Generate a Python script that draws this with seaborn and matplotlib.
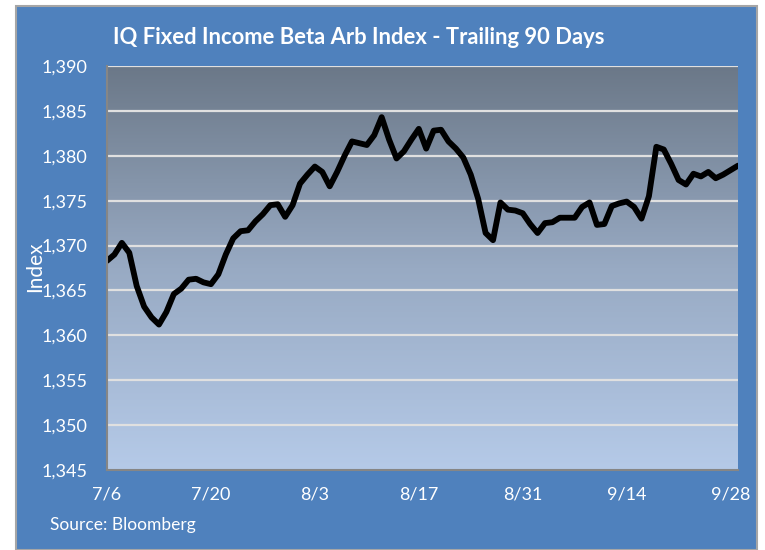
import numpy as np
import pandas as pd
import matplotlib
matplotlib.use("Agg")
import matplotlib.pyplot as plt
import matplotlib.dates as mdates
from matplotlib.colors import LinearSegmentedColormap
from matplotlib.patches import Rectangle
import seaborn as sns

# ---- data ----
start_date = "2015-07-06"
index_values = [
    1368.3, 1369.0, 1370.3, 1369.2, 1365.5, 1363.2, 1362.0, 1361.2, 1362.6, 1364.6,
    1365.2, 1366.2, 1366.3, 1365.9, 1365.7, 1366.8, 1369.0, 1370.8, 1371.6, 1371.7,
    1372.7, 1373.5, 1374.5, 1374.6, 1373.2, 1374.5, 1376.9, 1377.9, 1378.8, 1378.2,
    1376.6, 1378.2, 1380.0, 1381.6, 1381.4, 1381.2, 1382.3, 1384.3, 1381.8, 1379.7,
    1380.5, 1381.8, 1383.0, 1380.8, 1382.8, 1382.9, 1381.6, 1380.8, 1379.8, 1377.9,
    1375.2, 1371.4, 1370.6, 1374.8, 1374.0, 1373.9, 1373.6, 1372.4, 1371.4, 1372.5,
    1372.6, 1373.1, 1373.1, 1373.1, 1374.3, 1374.8, 1372.3, 1372.4, 1374.4, 1374.7,
    1374.9, 1374.3, 1373.0, 1375.5, 1381.0, 1380.7, 1379.1, 1377.3, 1376.8, 1378.0,
    1377.7, 1378.2, 1377.5, 1377.9, 1378.4, 1378.9,
]
tick_dates = ["2015-07-06", "2015-07-20", "2015-08-03", "2015-08-17",
              "2015-08-31", "2015-09-14", "2015-09-28"]
tick_labels = ["7/6", "7/20", "8/3", "8/17", "8/31", "9/14", "9/28"]
y_ticks = [1345, 1350, 1355, 1360, 1365, 1370, 1375, 1380, 1385, 1390]

title = "IQ Fixed Income Beta Arb Index - Trailing 90 Days"
source = "Source: Bloomberg"

df = pd.DataFrame({
    "date": pd.date_range(start_date, periods=len(index_values), freq="D"),
    "value": index_values,
})

sns.set_theme(style="white")
plt.rcParams["font.family"] = ["Lato", "DejaVu Sans"]

W, H = 765, 550
fig = plt.figure(figsize=(W / 100, H / 100), dpi=100)
fig.patch.set_facecolor("white")

# outer blue panel with gray border
panel = Rectangle((16 / W, 0), (757 - 16) / W, 1 - 6 / H, transform=fig.transFigure,
                  facecolor="#4F81BD", edgecolor="#A6A6A6", linewidth=1.5, zorder=-10)
fig.patches.append(panel)

ax = fig.add_axes([107 / W, 1 - 470 / H, (738 - 107) / W, (470 - 66) / H])
ax.set_zorder(5)
ax.set_facecolor("none")

# gradient plot area
cmap = LinearSegmentedColormap.from_list("grad", ["#6B7888", "#98AAC3", "#B5CAE8"])
grad = np.linspace(0, 1, 256).reshape(-1, 1)
x0 = mdates.date2num(pd.Timestamp(start_date))
x1 = x0 + len(index_values) - 1
ax.imshow(grad, aspect="auto", cmap=cmap, extent=[x0, x1, 1345, 1390],
          origin="upper", zorder=0, interpolation="bicubic")

for yv in y_ticks[1:]:
    ax.axhline(yv, color="#E0E0E0", linewidth=1.6, zorder=1)

sns.lineplot(data=df, x="date", y="value", ax=ax, color="black", linewidth=4.2,
             zorder=3, solid_capstyle="round", solid_joinstyle="round")

ax.set_xlim(x0, x1)
ax.set_ylim(1345, 1390)
ax.set_yticks(y_ticks)
ax.set_yticklabels([f"{v:,}" for v in y_ticks])
ax.set_xticks(pd.to_datetime(tick_dates))
ax.set_xticklabels(tick_labels)

for s in ["top", "right"]:
    ax.spines[s].set_visible(False)
for s in ["left", "bottom"]:
    ax.spines[s].set_color("#868686")
    ax.spines[s].set_linewidth(1.5)
    ax.spines[s].set_zorder(4)

ax.tick_params(axis="both", which="major", direction="out", length=6, width=1.3,
               color="#868686", labelcolor="white", labelsize=13)
ax.tick_params(axis="y", pad=8)
ax.tick_params(axis="x", pad=6)
ax.set_xlabel("")
ax.set_ylabel("")

fig.text(35 / W, 1 - 267 / H, "Index", rotation=90, color="white", fontsize=15,
         ha="center", va="center")
fig.text(113 / W, 1 - 37 / H, title, color="white", fontsize=15.8, fontweight="bold",
         ha="left", va="center")
fig.text(50 / W, 1 - 525 / H, source, color="white", fontsize=12.5, ha="left", va="center")

fig.savefig("out.png", dpi=100)
